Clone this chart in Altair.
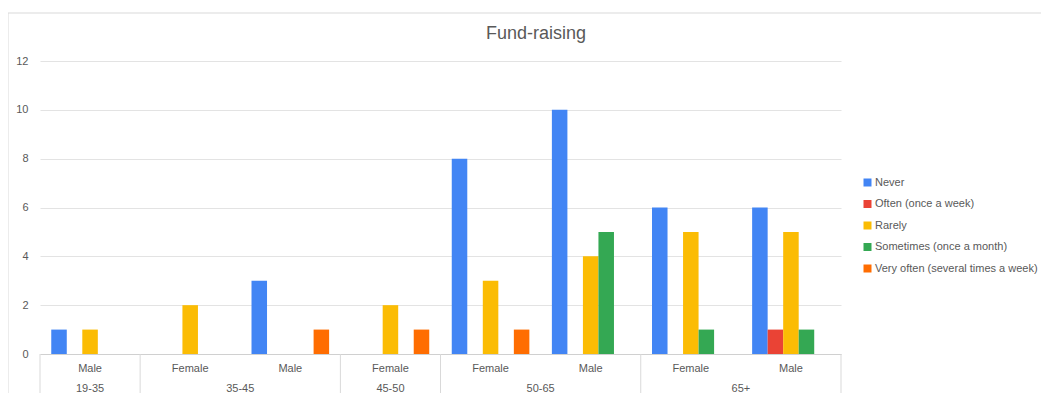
import altair as alt
import pandas as pd

groups = ["19-35|Male", "35-45|Female", "35-45|Male", "45-50|Female",
          "50-65|Female", "50-65|Male", "65+|Female", "65+|Male"]
ages = ["19-35", "35-45", "35-45", "45-50", "50-65", "50-65", "65+", "65+"]
genders = ["Male", "Female", "Male", "Female", "Female", "Male", "Female", "Male"]
series = ["Never", "Often (once a week)", "Rarely", "Sometimes (once a month)",
          "Very often (several times a week)"]
colors = ["#4285F4", "#EA4335", "#FBBC04", "#34A853", "#FF6D01"]
never = [1, 0, 3, 0, 8, 10, 6, 6]
often = [0, 0, 0, 0, 0, 0, 0, 1]
rarely = [1, 2, 0, 2, 3, 4, 5, 5]
sometimes = [0, 0, 0, 0, 0, 5, 1, 1]
very_often = [0, 0, 1, 1, 1, 0, 0, 0]
y_ticks = [0, 2, 4, 6, 8, 10, 12]
title_text = "Fund-raising"

FONT = "Liberation Sans"
GREY = "#595959"
W, H = 801, 293

rows = []
for s, vals in zip(series, [never, often, rarely, sometimes, very_often]):
    for k, v in zip(groups, vals):
        if v:
            rows.append({"key": k, "series": s, "value": v})
bars_df = pd.DataFrame(rows)

gender_df = pd.DataFrame({"key": groups, "gender": genders})

age_order = []
for a in ages:
    if a not in age_order:
        age_order.append(a)
age_rows = []
for a in age_order:
    ks = [k for k, aa in zip(groups, ages) if aa == a]
    age_rows.append({"key": ks[0], "age": a, "n": len(ks), "last": ks[-1]})
age_df = pd.DataFrame(age_rows)

xscale = alt.Scale(domain=groups, paddingInner=0, paddingOuter=0)

bars = alt.Chart(bars_df).mark_bar().encode(
    x=alt.X("key:N", scale=xscale,
            axis=alt.Axis(labels=False, ticks=False, title=None, domain=True,
                          domainColor="#d0d0d0", grid=False)),
    xOffset=alt.XOffset("series:N", scale=alt.Scale(domain=series, paddingInner=0,
                                                      paddingOuter=0.725)),
    y=alt.Y("value:Q", scale=alt.Scale(domain=[0, 12], nice=False),
            axis=alt.Axis(values=y_ticks, domain=False, ticks=False, title=None,
                          labelColor=GREY, labelFontSize=11, labelFont=FONT,
                          labelPadding=12, gridColor="#e3e3e3")),
    color=alt.Color("series:N", scale=alt.Scale(domain=series, range=colors),
                    legend=alt.Legend(orient="none", legendX=822, legendY=116,
                                      title=None, symbolType="square",
                                      symbolSize=64, symbolStrokeWidth=0,
                                      labelFontSize=11, labelFont=FONT,
                                      labelColor=GREY, rowPadding=9.5,
                                      labelOffset=2, padding=0, labelLimit=400)),
)

gender_text = alt.Chart(gender_df).mark_text(
    font=FONT, fontSize=11, color=GREY, baseline="middle", align="center"
).encode(x=alt.X("key:N", scale=xscale), y=alt.value(H + 15), text="gender:N")

age_single = alt.Chart(age_df[age_df["n"] == 1]).mark_text(
    font=FONT, fontSize=11, color=GREY, baseline="middle", align="center"
).encode(x=alt.X("key:N", scale=xscale), y=alt.value(H + 34.5), text="age:N")

age_double = alt.Chart(age_df[age_df["n"] == 2]).mark_text(
    font=FONT, fontSize=11, color=GREY, baseline="middle", align="center"
).encode(x=alt.X("key:N", scale=xscale, bandPosition=1), y=alt.value(H + 34.5),
         text="age:N")

sep_start = alt.Chart(age_df).mark_rule(color="#d9d9d9", strokeWidth=1).encode(
    x=alt.X("key:N", scale=xscale, bandPosition=0), y=alt.value(H), y2=alt.value(H + 50))
sep_end = alt.Chart(age_df.tail(1)).mark_rule(color="#d9d9d9", strokeWidth=1).encode(
    x=alt.X("last:N", scale=xscale, bandPosition=1), y=alt.value(H), y2=alt.value(H + 50))

frame = alt.Chart(pd.DataFrame({"t": [title_text]})).mark_rect(
    fillOpacity=0, stroke="#d9d9d9", strokeWidth=1
).encode(x=alt.value(-32), x2=alt.value(1030), y=alt.value(-48), y2=alt.value(H + 60))

title = alt.Chart(pd.DataFrame({"t": [title_text]})).mark_text(
    font=FONT, fontSize=18, color=GREY, align="center", baseline="middle"
).encode(x=alt.value(496), y=alt.value(-27), text="t:N")

chart = alt.layer(frame, bars, gender_text, age_single, age_double, sep_start,
                  sep_end, title).properties(
    width=W, height=H,
    autosize=alt.AutoSizeParams(type="none"),
    padding={"left": 32, "top": 53, "right": 200, "bottom": 39},
).configure(font=FONT).configure_view(strokeWidth=0, stroke="transparent")

chart.save("out.html", embed_options={"renderer": "svg", "actions": False})
